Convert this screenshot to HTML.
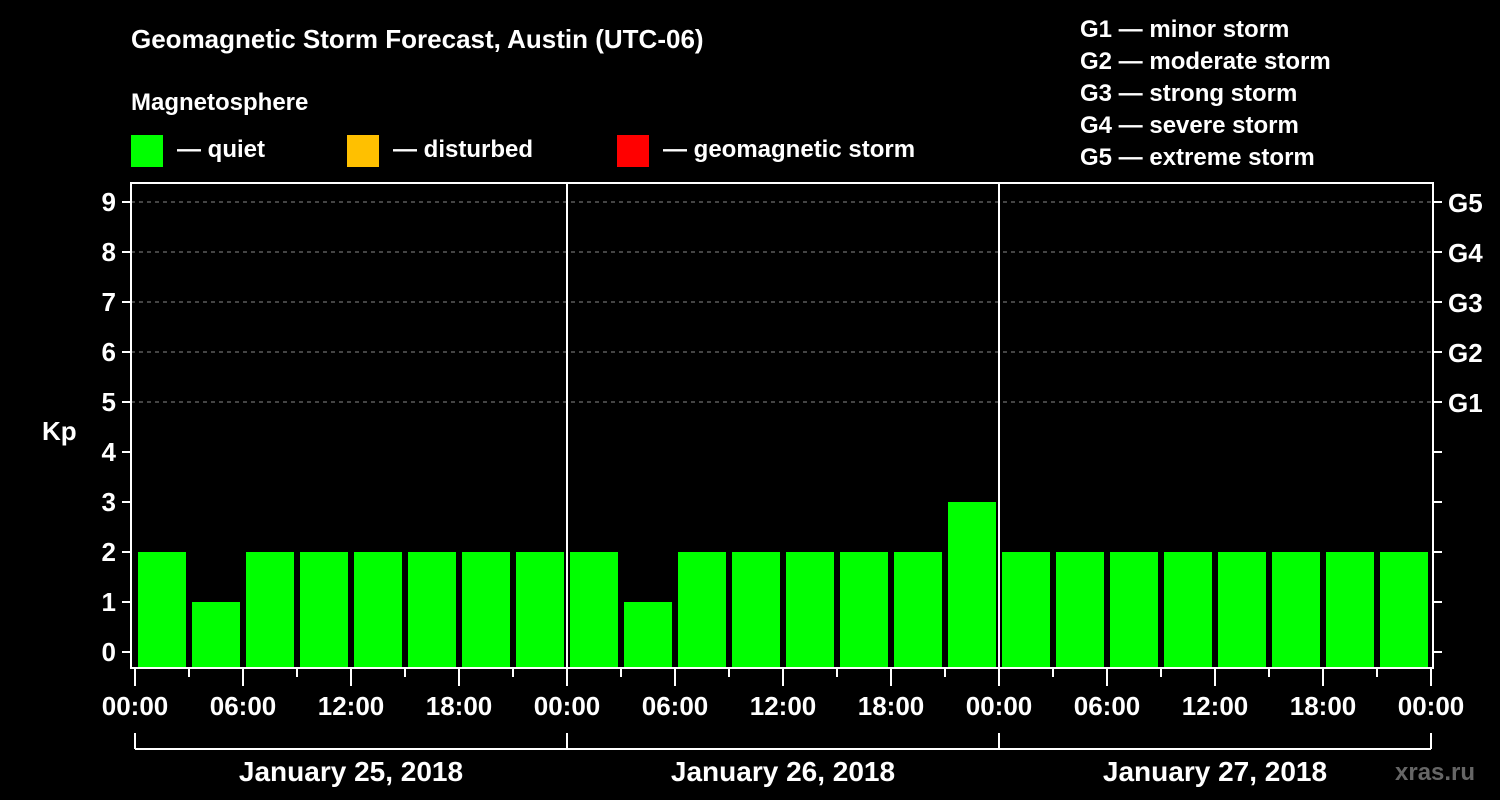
<!DOCTYPE html>
<html><head><meta charset="utf-8"><style>
html,body{margin:0;padding:0;background:#000;width:1500px;height:800px;overflow:hidden}
svg text{font-family:"Liberation Sans",Arial,sans-serif;font-weight:bold;fill:#fff}
</style></head><body>
<svg id="chart" width="1500" height="800" xmlns="http://www.w3.org/2000/svg">
<text x="131" y="48" font-size="26">Geomagnetic Storm Forecast, Austin (UTC-06)</text>
<text x="131" y="110" font-size="24">Magnetosphere</text>
<g><rect x="131" y="135" width="32" height="32" fill="#00ff00"/><text x="177" y="157" font-size="24">— quiet</text></g>
<g><rect x="347" y="135" width="32" height="32" fill="#ffc000"/><text x="393" y="157" font-size="24">— disturbed</text></g>
<g><rect x="617" y="135" width="32" height="32" fill="#ff0000"/><text x="663" y="157" font-size="24">— geomagnetic storm</text></g>
<g font-size="24">
<text x="1080" y="37">G1 — minor storm</text>
<text x="1080" y="69">G2 — moderate storm</text>
<text x="1080" y="101">G3 — strong storm</text>
<text x="1080" y="133">G4 — severe storm</text>
<text x="1080" y="165">G5 — extreme storm</text>
</g>
<text x="42" y="440" font-size="26">Kp</text>
<text x="1395" y="780" font-size="24" fill="#666" style="fill:#666">xras.ru</text>
<g id="grid"></g><g id="bars"></g><g id="axes"></g>
</svg>
<script>
const kpValues=[2,1,2,2,2,2,2,2, 2,1,2,2,2,2,2,3, 2,2,2,2,2,2,2,2];
const yTicks=[0,1,2,3,4,5,6,7,8,9];
const gLabels=["G1","G2","G3","G4","G5"];
const xTickLabels=["00:00","06:00","12:00","18:00","00:00","06:00","12:00","18:00","00:00","06:00","12:00","18:00","00:00"];
const dayLabels=["January 25, 2018","January 26, 2018","January 27, 2018"];
const NS="http://www.w3.org/2000/svg";
const L=131,R=1433,T=183,B=668,X0=135,HOUR=18;
const y=v=>652-50*v;
const x=h=>X0+HOUR*h;
function mk(tag,attrs,parent,txt){const e=document.createElementNS(NS,tag);for(const k in attrs)e.setAttribute(k,attrs[k]);if(txt!==undefined)e.textContent=txt;parent.appendChild(e);return e;}
const grid=document.getElementById('grid'),bars=document.getElementById('bars'),axes=document.getElementById('axes');
for(let v=5;v<=9;v++){const l=mk('line',{x1:L,x2:R,y1:y(v),y2:y(v),stroke:'#888','stroke-dasharray':'4,4','stroke-width':1},grid);

}
kpValues.forEach((v,i)=>{const c=v>=5?'#ff0000':(v>=4?'#ffc000':'#00ff00');
const r=mk('rect',{x:x(i*3)+3,y:y(v),width:48,height:B-y(v),fill:c},bars);

});
const fr=mk('rect',{x:L,y:T,width:R-L,height:B-T,fill:'none',stroke:'#fff','stroke-width':2},axes);


for(let d=1;d<3;d++){const l=mk('line',{x1:x(d*24),x2:x(d*24),y1:T,y2:B,stroke:'#fff','stroke-width':2},axes);

}
yTicks.forEach(v=>{mk('line',{x1:122,x2:L,y1:y(v),y2:y(v),stroke:'#fff','stroke-width':2},axes);mk('line',{x1:R,x2:1442,y1:y(v),y2:y(v),stroke:'#fff','stroke-width':2},axes);
const t=mk('text',{x:116,y:y(v)+9,'font-size':26,'text-anchor':'end'},axes,String(v));

});
gLabels.forEach((g,i)=>{const t=mk('text',{x:1448,y:y(5+i)+10,'font-size':26},axes,g);

});
for(let h=0;h<=72;h+=3){const major=h%6===0;mk('line',{x1:x(h),x2:x(h),y1:B,y2:major?686:677,stroke:'#fff','stroke-width':2},axes);}
xTickLabels.forEach((s,i)=>{const t=mk('text',{x:x(i*6),y:715,'font-size':26,'text-anchor':'middle'},axes,s);

});
mk('line',{x1:x(0),x2:x(72),y1:749,y2:749,stroke:'#fff','stroke-width':2},axes);
for(let d=0;d<=3;d++)mk('line',{x1:x(d*24),x2:x(d*24),y1:733,y2:749,stroke:'#fff','stroke-width':2},axes);
dayLabels.forEach((s,i)=>{const t=mk('text',{x:x(i*24+12),y:781,'font-size':28,'text-anchor':'middle'},axes,s);

});
</script>
</body></html>
